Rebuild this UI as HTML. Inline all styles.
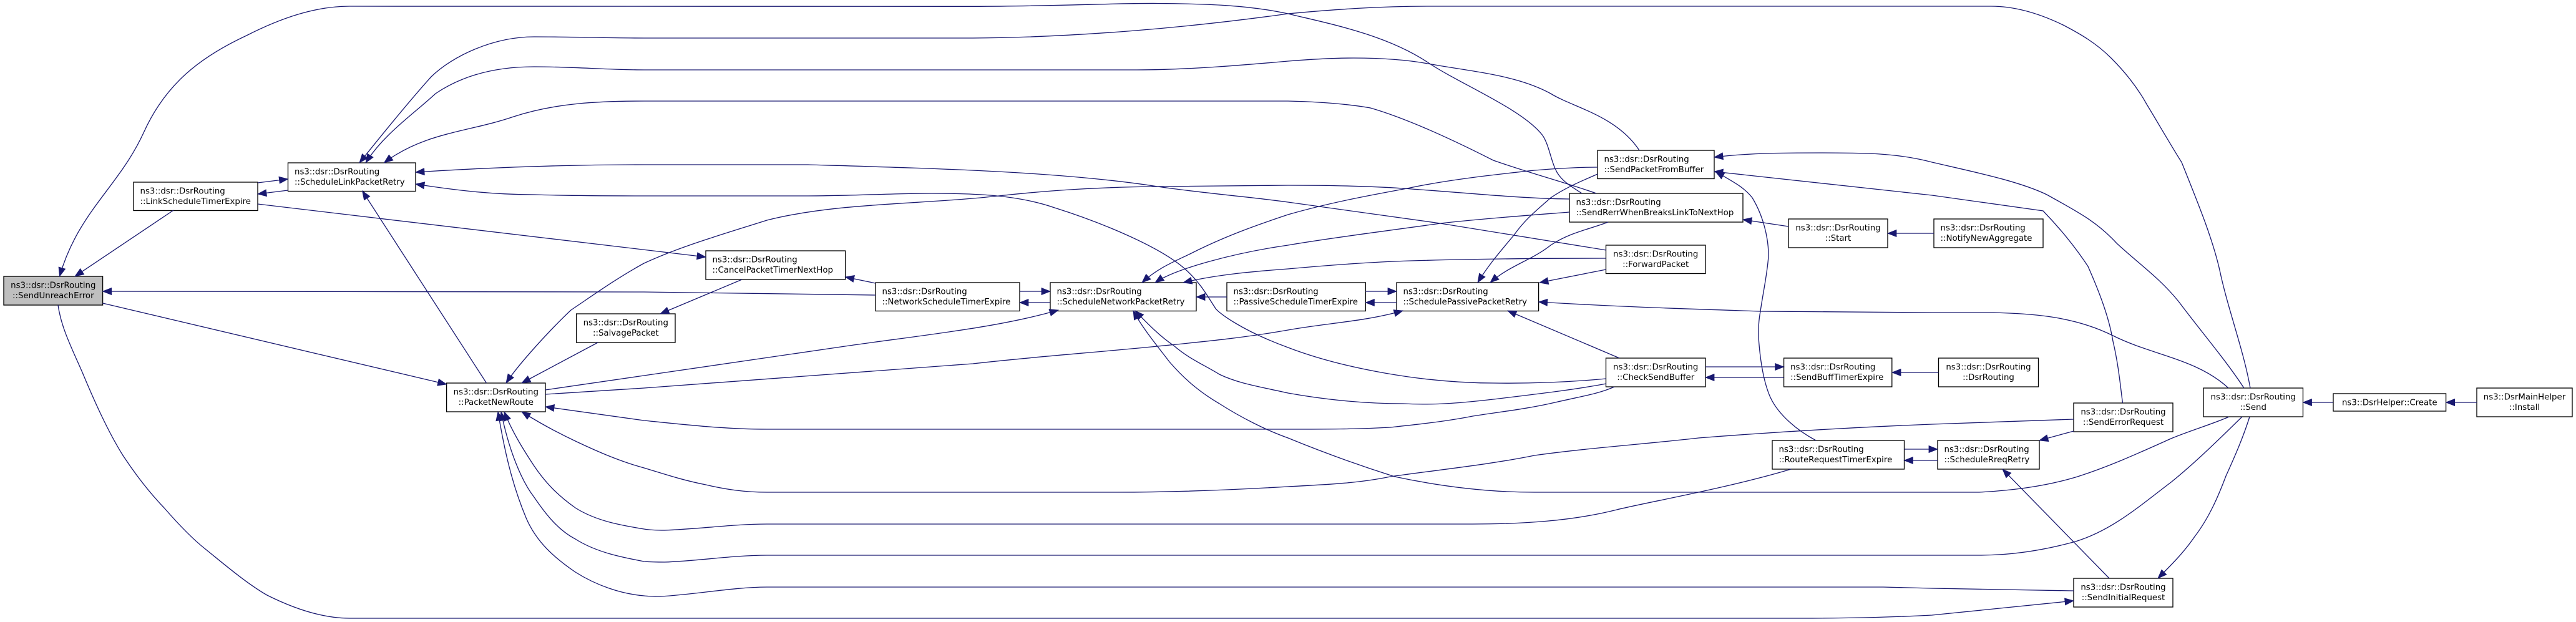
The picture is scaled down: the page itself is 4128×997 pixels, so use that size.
<!DOCTYPE html>
<html>
<head>
<meta charset="utf-8">
<title>ns3::dsr::DsrRouting::SendUnreachError</title>
<style>
html,body{margin:0;padding:0;background:#fff;}
svg{display:block;}
.b{fill:#fff;stroke:#000;stroke-width:1.33;}
.g{fill:#bfbfbf;stroke:#000;stroke-width:1.33;}
text{font-family:"DejaVu Sans","Liberation Sans",sans-serif;font-size:13.33px;fill:#000;}
.c{text-anchor:middle;}
.e path{fill:none;stroke:#191970;stroke-width:1.33;marker-start:url(#a);}
</style>
</head>
<body>
<svg xmlns="http://www.w3.org/2000/svg" width="4128" height="997" viewBox="0 0 4128 997">
<defs>
<marker id="a" markerUnits="userSpaceOnUse" markerWidth="16" markerHeight="13" refX="14" refY="6" orient="auto-start-reverse" viewBox="0 0 16 13" overflow="visible"><path d="M0 0.5L14 6L0 11.5z" fill="#191970" stroke="#191970" stroke-width="0.8"/></marker>
</defs>

<rect class="g" x="6" y="443" width="158.6" height="46"/>
<text class="c" x="85.3" y="461.3">ns3::dsr::DsrRouting</text><text class="c" x="85.3" y="478">::SendUnreachError</text>

<rect class="b" x="214" y="292" width="199" height="45.5"/>
<text x="224.5" y="310.3">ns3::dsr::DsrRouting</text><text x="224.5" y="327">::LinkScheduleTimerExpire</text>

<rect class="b" x="461.5" y="261" width="204.5" height="45.5"/>
<text x="472" y="279.3">ns3::dsr::DsrRouting</text><text x="472" y="296">::ScheduleLinkPacketRetry</text>

<rect class="b" x="715.6" y="614" width="158.4" height="46"/>
<text class="c" x="794.8" y="632.3">ns3::dsr::DsrRouting</text><text class="c" x="794.8" y="649">::PacketNewRoute</text>

<rect class="b" x="923.6" y="503" width="158.4" height="46"/>
<text class="c" x="1002.8" y="521.3">ns3::dsr::DsrRouting</text><text class="c" x="1002.8" y="538">::SalvagePacket</text>

<rect class="b" x="1131" y="402" width="223.6" height="46"/>
<text x="1141.5" y="420.3">ns3::dsr::DsrRouting</text><text x="1141.5" y="437">::CancelPacketTimerNextHop</text>

<rect class="b" x="1403" y="453" width="231" height="45.5"/>
<text x="1413.5" y="471.3">ns3::dsr::DsrRouting</text><text x="1413.5" y="488">::NetworkScheduleTimerExpire</text>

<rect class="b" x="1683" y="453" width="234" height="45.5"/>
<text x="1693.5" y="471.3">ns3::dsr::DsrRouting</text><text x="1693.5" y="488">::ScheduleNetworkPacketRetry</text>

<rect class="b" x="1966" y="453" width="222.4" height="45.5"/>
<text x="1976.5" y="471.3">ns3::dsr::DsrRouting</text><text x="1976.5" y="488">::PassiveScheduleTimerExpire</text>

<rect class="b" x="2238" y="453" width="227.6" height="45.5"/>
<text x="2248.5" y="471.3">ns3::dsr::DsrRouting</text><text x="2248.5" y="488">::SchedulePassivePacketRetry</text>

<rect class="b" x="2560" y="241" width="187" height="45.5"/>
<text x="2570.5" y="259.3">ns3::dsr::DsrRouting</text><text x="2570.5" y="276">::SendPacketFromBuffer</text>

<rect class="b" x="2515" y="310" width="278" height="46"/>
<text x="2525.5" y="328.3">ns3::dsr::DsrRouting</text><text x="2525.5" y="345">::SendRerrWhenBreaksLinkToNextHop</text>

<rect class="b" x="2866" y="351" width="159" height="46"/>
<text class="c" x="2945.5" y="369.3">ns3::dsr::DsrRouting</text><text class="c" x="2945.5" y="386">::Start</text>

<rect class="b" x="2573.5" y="393" width="159.5" height="45.5"/>
<text class="c" x="2653.2" y="411.3">ns3::dsr::DsrRouting</text><text class="c" x="2653.2" y="428">::ForwardPacket</text>

<rect class="b" x="2573.5" y="574" width="159.5" height="46"/>
<text class="c" x="2653.2" y="592.3">ns3::dsr::DsrRouting</text><text class="c" x="2653.2" y="609">::CheckSendBuffer</text>

<rect class="b" x="2858.6" y="574" width="173.2" height="46"/>
<text x="2869.1" y="592.3">ns3::dsr::DsrRouting</text><text x="2869.1" y="609">::SendBuffTimerExpire</text>

<rect class="b" x="2840" y="706" width="211.5" height="46"/>
<text x="2850.5" y="724.3">ns3::dsr::DsrRouting</text><text x="2850.5" y="741">::RouteRequestTimerExpire</text>

<rect class="b" x="3099" y="351" width="175" height="46"/>
<text x="3109.5" y="369.3">ns3::dsr::DsrRouting</text><text x="3109.5" y="386">::NotifyNewAggregate</text>

<rect class="b" x="3106.5" y="574" width="160" height="46"/>
<text class="c" x="3186.5" y="592.3">ns3::dsr::DsrRouting</text><text class="c" x="3186.5" y="609">::DsrRouting</text>

<rect class="b" x="3323" y="646" width="159" height="46"/>
<text class="c" x="3402.5" y="664.3">ns3::dsr::DsrRouting</text><text class="c" x="3402.5" y="681">::SendErrorRequest</text>

<rect class="b" x="3105" y="706" width="163" height="46"/>
<text x="3115.5" y="724.3">ns3::dsr::DsrRouting</text><text x="3115.5" y="741">::ScheduleRreqRetry</text>

<rect class="b" x="3323" y="927" width="159" height="46"/>
<text class="c" x="3402.5" y="945.3">ns3::dsr::DsrRouting</text><text class="c" x="3402.5" y="962">::SendInitialRequest</text>

<rect class="b" x="3531" y="622" width="159.5" height="46"/>
<text class="c" x="3610.7" y="640.3">ns3::dsr::DsrRouting</text><text class="c" x="3610.7" y="657">::Send</text>

<rect class="b" x="3739" y="631" width="180.6" height="28"/>
<text class="c" x="3829.3" y="649.5">ns3::DsrHelper::Create</text>

<rect class="b" x="3969" y="622" width="153" height="46"/>
<text class="c" x="4045.5" y="640.3">ns3::DsrMainHelper</text><text class="c" x="4045.5" y="657">::Install</text>

<g class="e">
<path d="M95.5 443C125 340,190 300,230 213C265 135,320 92,395 57C450 29,505 10,560 10L1559 10.3C1700 10,1780 5,1855 5.5C1930 6,2000 8,2064 22C2130 38,2220 55,2288 100C2340 135,2440 175,2472 217C2482 232,2485 255,2492 270C2500 290,2520 300,2535 310"/>
<path d="M576 261C600 231,655 163,691 123C725 90,790 59,856 59C915 59,975 61,1032 61L1559 61C1720 60,1900 45,2064 22C2140 15,2210 10,2288 10L3191 10C3235 10,3275 25,3306 40C3335 55,3360 70,3383 93C3405 115,3425 140,3440 167C3460 200,3480 235,3496 260C3520 320,3545 380,3557 433C3570 495,3595 560,3606 622"/>
<path d="M586 261C615 215,660 185,698 150C745 118,800 107,856 107C920 107,975 112,1032 112L1822 112C1900 112,1985 105,2064 98C2100 95,2135 93,2169 93C2210 93,2250 95,2288 102C2360 115,2430 120,2485 150C2520 172,2590 185,2627 241"/>
<path d="M615.5 261C680 212,750 212,823 187C890 165,960 162,1032 162L2064 162C2110 163,2155 166,2196 173C2255 190,2330 225,2393 257C2450 277,2510 293,2558 310"/>
<path d="M666 276C790 268,920 264,1032 264L1295 264C1500 270,1700 275,1855 299C1930 310,2000 315,2064 324L2308 358L2574 401"/>
<path d="M666 295C730 305,790 312,856 312C920 314,980 314,1032 314L1295 314C1360 314,1430 310,1493 310C1560 310,1630 312,1690 333C1760 355,1860 395,1901 433C1925 455,1935 475,1947 493C1950 500,1990 530,2064 557C2150 590,2280 614,2393 614C2460 615,2520 612,2574 607"/>
<path d="M461.5 287L413 293"/>
<path d="M413 311L461.5 305"/>
<path d="M120 443L278 337"/>
<path d="M1131 412L413 327"/>
<path d="M164.6 467L1032 468L1403 473"/>
<path d="M715.6 616L164.6 486"/>
<path d="M580.6 306L779.5 614"/>
<path d="M811 614C830 585,880 530,915 497C955 470,990 445,1032 422C1090 395,1160 375,1229 353C1340 325,1470 328,1591 315C1680 305,1760 300,1855 299L2064 297C2130 297,2190 298,2248 302C2340 308,2430 318,2515 319"/>
<path d="M836 614L958 549"/>
<path d="M1058 503L1189 448"/>
<path d="M1354.6 444L1403 454"/>
<path d="M1683 467L1634 467"/>
<path d="M1634 485L1683 485"/>
<path d="M1917 476L1966 476"/>
<path d="M2188.4 485L2238 485"/>
<path d="M2238 467L2188.4 467"/>
<path d="M1830 453C1855 430,1880 420,1907 407C1960 380,2010 362,2064 344C2130 325,2195 313,2255 302C2320 288,2395 280,2459 273C2495 270,2530 268,2560 268"/>
<path d="M1851 453C1885 430,1980 405,2064 393C2140 380,2225 370,2308 358C2380 350,2450 345,2515 340"/>
<path d="M1896 453C1950 440,2010 435,2064 431C2130 425,2195 420,2261 418C2360 415,2470 414,2573.5 414"/>
<path d="M2368 453C2385 425,2405 402,2426 377C2445 350,2465 335,2485 317C2510 300,2535 290,2560 279"/>
<path d="M2388 453C2420 425,2455 417,2485 393C2515 373,2545 368,2577 356"/>
<path d="M2467 453L2573.5 432"/>
<path d="M2465.6 484C2600 492,2700 495,2821 499L3096 501L3195 501C3250 503,3320 505,3386 538C3450 570,3520 575,3571 622"/>
<path d="M2747 252C2805 245,2860 245,2920 245C2985 245,3040 245,3096 260C3160 275,3235 290,3280 312C3330 340,3360 355,3392 390C3430 425,3460 445,3491 483C3530 535,3565 575,3596 622"/>
<path d="M2747 275L3096 313L3274 338C3300 365,3325 395,3346 427C3365 470,3380 510,3386 547C3395 585,3398 620,3401.5 646"/>
<path d="M2749 275C2775 290,2795 300,2808 317C2825 345,2834 380,2834 410C2832 440,2825 470,2821 499C2818 515,2818 525,2818 540C2820 570,2825 610,2837 637C2850 665,2880 690,2910 706"/>
<path d="M2793 352L2866 363"/>
<path d="M3025 374L3099 374"/>
<path d="M2858.6 588L2733 588"/>
<path d="M2733 605L2858.6 605"/>
<path d="M3032 597L3106.5 597"/>
<path d="M3105 720L3051.5 720"/>
<path d="M3051.5 738L3105 738"/>
<path d="M2416 498L2595 574"/>
<path d="M1819 498C1840 520,1860 540,1881 554C1905 575,1930 585,1954 600C1985 615,2020 620,2064 630C2120 640,2185 647,2248 647C2300 650,2350 645,2393 640C2460 632,2520 625,2574 615"/>
<path d="M1816 498C1830 525,1855 555,1874 580C1900 610,1925 630,1954 647C1990 670,2030 690,2064 702C2120 725,2175 745,2235 764C2310 780,2385 789,2459 789L3172 789C3225 786,3275 780,3326 765C3380 748,3430 725,3479 703C3510 690,3545 680,3572 668"/>
<path d="M1696 497C1600 525,1480 537,1361 554L1032 602L874 625"/>
<path d="M2248 498C2190 515,2125 518,2064 529C1990 542,1925 548,1855 555C1755 565,1655 572,1559 583L1032 622L874 632"/>
<path d="M874 652L1032 674C1090 680,1160 688,1229 688L2064 688C2120 688,2175 688,2228 685C2275 680,2320 675,2360 667C2405 660,2450 655,2492 645C2530 636,2560 632,2587 620"/>
<path d="M836 660C860 675,890 692,922 707C960 725,995 740,1032 750C1065 760,1095 770,1131 777C1165 785,1195 789,1229 789L1789 789C1890 789,1980 785,2064 780C2120 777,2175 775,2228 764C2305 753,2385 745,2459 730C2545 718,2635 712,2722 702C2850 692,2970 685,3096 680L3323 672"/>
<path d="M808 660C820 690,835 715,856 747C875 775,895 795,922 814C955 835,995 842,1032 848C1045 850,1055 850,1065 850C1120 848,1175 840,1229 840L2360 840C2440 840,2520 835,2591 817C2640 805,2770 782,2870 752"/>
<path d="M803 660C815 720,835 770,856 797C875 825,895 850,922 864C955 885,995 893,1032 900C1045 901,1055 901,1065 901C1120 899,1175 890,1229 890L3172 890C3225 890,3275 882,3326 868C3385 850,3430 810,3479 773C3520 740,3560 700,3593 668"/>
<path d="M798 660C808 720,820 775,843 830C860 870,890 895,922 917C955 938,995 952,1032 955C1040 956,1050 956,1058 956C1115 953,1175 941,1229 941L3018 941L3096 943L3323 947"/>
<path d="M3268 706L3323 691"/>
<path d="M3209 752L3380 927"/>
<path d="M3458 927C3480 905,3500 885,3517 860C3540 830,3555 795,3567 763C3582 730,3595 700,3605 668"/>
<path d="M3690.5 645L3739 645"/>
<path d="M3919.6 645L3969 645"/>
<path d="M3323 963L3096 986C3020 990,2950 991,2887 991L560 991C515 991,470 975,428 954C395 935,360 905,329 880C310 865,290 845,263 814C240 790,220 765,197 730C172 690,150 640,132 597C115 558,98 525,93 489"/>
</g>
</svg>
</body>
</html>
